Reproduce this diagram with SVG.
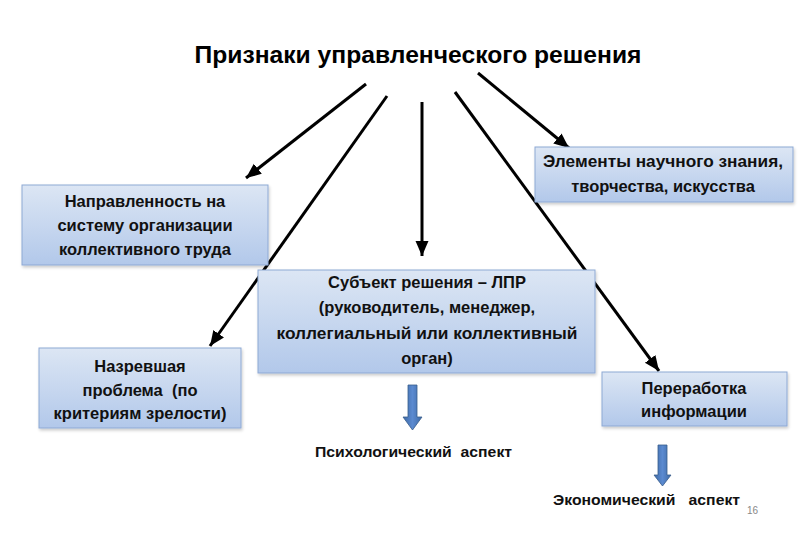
<svg xmlns="http://www.w3.org/2000/svg" width="810" height="540" viewBox="0 0 810 540">
<defs>
<linearGradient id="boxg" x1="0" y1="0" x2="0" y2="1">
<stop offset="0" stop-color="#dce6f4"/>
<stop offset="1" stop-color="#b2c8ea"/>
</linearGradient>
<linearGradient id="blueg" x1="0" y1="0" x2="1" y2="0">
<stop offset="0" stop-color="#3e6aa6"/>
<stop offset="0.5" stop-color="#5b8ad0"/>
<stop offset="1" stop-color="#3e6aa6"/>
</linearGradient>
<marker id="ah" markerUnits="userSpaceOnUse" markerWidth="16" markerHeight="14" refX="15" refY="6.5" orient="auto">
<path d="M0,0 L15,6.5 L0,13 z" fill="#000"/>
</marker>
<filter id="sh" x="-5%" y="-5%" width="110%" height="120%">
<feDropShadow dx="1" dy="2" stdDeviation="1.5" flood-color="#000" flood-opacity="0.2"/>
</filter>
</defs>
<style>
.box{fill:url(#boxg);stroke:#8ea9d4;stroke-width:1;filter:url(#sh)}
.t{font-family:"Liberation Sans",Arial,sans-serif;font-weight:bold;font-size:16.5px;fill:#111;text-anchor:middle}
.title{font-family:"Liberation Sans",Arial,sans-serif;font-weight:bold;font-size:23px;fill:#000;text-anchor:middle}
.lbl{font-family:"Liberation Sans",Arial,sans-serif;font-weight:bold;font-size:15.5px;fill:#111}
.ar{stroke:#000;stroke-width:3;fill:none;marker-end:url(#ah)}
.blk{fill:url(#blueg);stroke:#385d8a;stroke-width:0.8}
</style>
<rect width="810" height="540" fill="#fff"/>
<g id="title">
<text class="title" x="418" y="63" textLength="447" lengthAdjust="spacingAndGlyphs">Признаки управленческого решения</text>
</g>
<g id="connectors">
<line class="ar" x1="366" y1="84" x2="246" y2="178"/>
<line class="ar" x1="387" y1="96" x2="210" y2="346"/>
<line class="ar" x1="422" y1="102" x2="422" y2="256"/>
<line class="ar" x1="455" y1="92" x2="659" y2="371"/>
<line class="ar" x1="478" y1="73" x2="569" y2="148"/>
</g>
<g id="node-napravlennost">
<rect class="box" x="22" y="185" width="246" height="80"/>
<text class="t" x="145" y="207">Направленность на</text>
<text class="t" x="145" y="231">систему организации</text>
<text class="t" x="145" y="255">коллективного труда</text>
</g>
<g id="node-nazrevshaya">
<rect class="box" x="39" y="348" width="202" height="80"/>
<text class="t" x="140" y="372">Назревшая</text>
<text class="t" x="140" y="396" xml:space="preserve">проблема  (по</text>
<text class="t" x="140" y="419">критериям зрелости)</text>
</g>
<g id="node-subekt">
<rect class="box" x="258" y="270" width="337" height="103"/>
<text class="t" x="427" y="288">Субъект решения – ЛПР</text>
<text class="t" x="427" y="313">(руководитель, менеджер,</text>
<text class="t" x="427" y="339" textLength="301" lengthAdjust="spacingAndGlyphs">коллегиальный или коллективный</text>
<text class="t" x="427" y="364">орган)</text>
</g>
<g id="node-elementy">
<rect class="box" x="535" y="147" width="258" height="55"/>
<text class="t" x="663" y="167" textLength="240" lengthAdjust="spacingAndGlyphs">Элементы научного знания,</text>
<text class="t" x="663" y="192">творчества, искусства</text>
</g>
<g id="node-pererabotka">
<rect class="box" x="602" y="372" width="185" height="54"/>
<text class="t" x="694" y="394">Переработка</text>
<text class="t" x="694" y="417">информации</text>
</g>
<g id="psych">
<path class="blk" d="M408,385 L417,385 L417,417 L422,417 L412.5,430 L403,417 L408,417 z"/>
<text class="lbl" x="315" y="457" textLength="197" lengthAdjust="spacingAndGlyphs" xml:space="preserve">Психологический  аспект</text>
</g>
<g id="econ">
<path class="blk" d="M658,445 L667,445 L667,475 L671,475 L662.5,486 L654,475 L658,475 z"/>
<text class="lbl" x="553" y="505" textLength="187" lengthAdjust="spacingAndGlyphs" xml:space="preserve">Экономический   аспект</text>
</g>
<g id="page">
<text x="747" y="514" font-family="Liberation Sans,Arial,sans-serif" font-size="10" fill="#888">16</text>
</g>
</svg>
